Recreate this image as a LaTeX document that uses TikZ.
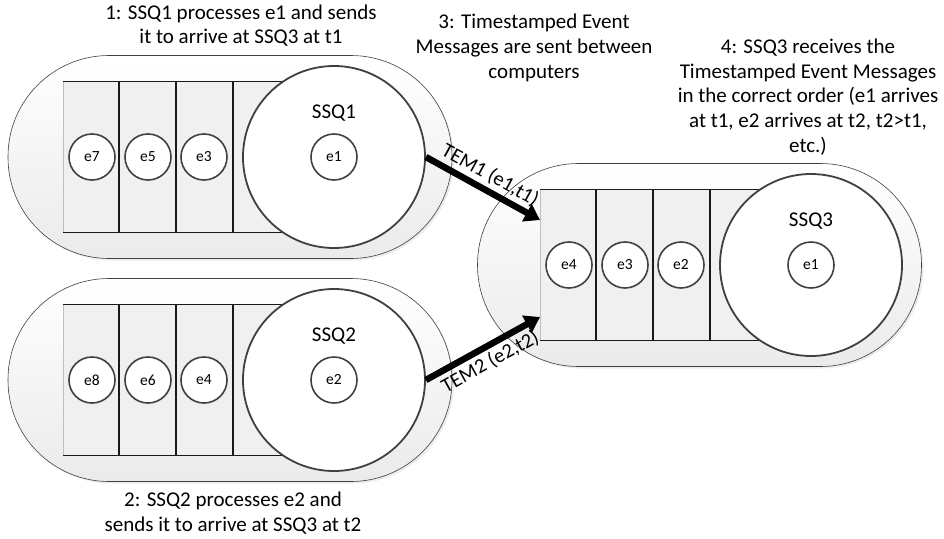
\documentclass[tikz,border=0pt]{standalone}
\usepackage{fontspec}
\setmainfont{Carlito}
\usepackage{tikz}
\usetikzlibrary{arrows.meta, positioning, calc, shadows}
\definecolor{ssqline}{RGB}{64, 64, 64}
\definecolor{ssqcell}{RGB}{240, 240, 240}
\definecolor{ssqedge}{RGB}{190, 190, 190}

\begin{document}
\begin{tikzpicture}[x=1pt, y=-1pt,
    capsule/.style={draw=ssqline, line width=0.6pt, rounded corners=101pt,
                    minimum width=444pt, minimum height=203pt, inner sep=0pt,
                    top color=white, bottom color=black!8,
                    drop shadow={opacity=0.15, shadow xshift=2pt, shadow yshift=-2pt}},
    server/.style={circle, draw=ssqline, line width=1.8pt, fill=white,
                   minimum size=182pt, inner sep=0pt},
    event/.style={circle, draw=ssqline, line width=1.6pt, fill=white,
                  minimum size=46pt, inner sep=0pt, font=\fontsize{15.5}{18}\selectfont},
    qline/.style={line width=1.8pt, black!90},
    ssqname/.style={font=\fontsize{21}{24}\selectfont},
    note/.style={align=center, font=\fontsize{21}{24.7}\selectfont},
    msg/.style={-{Triangle[length=15pt, width=19pt]}, line width=6.5pt},
    msglabel/.style={font=\fontsize{20.5}{22}\selectfont, sloped, inner sep=3pt},
]
\useasboundingbox (0,0) rectangle (944,538);

% Queues: number / centre of server / capsule offset / events
\foreach \s/\x/\y/\off/\a/\b/\c/\d in {1/334/157/-104/e7/e5/e3/e1,
                                       2/334/380/-104/e8/e6/e4/e2,
                                       3/811/265/-111.5/e4/e3/e2/e1} {
    \coordinate (c\s) at (\x,\y);
    \node[capsule] (pill\s) at ($(c\s)+(\off,0)$) {};
    \fill[ssqcell] ($(c\s)+(-271,-75.5)$) rectangle ($(c\s)+(0,75.5)$);
    \draw[ssqedge, line width=0.8pt] ($(c\s)+(-271,-75.5)$) -- ($(c\s)+(-271,75.5)$);
    \draw[qline] ($(c\s)+(-271,-75.5)$) -- ($(c\s)+(0,-75.5)$);
    \draw[qline] ($(c\s)+(-271,75.5)$) -- ($(c\s)+(0,75.5)$);
    \foreach \dx in {-215,-158,-101}
        \draw[qline] ($(c\s)+(\dx,-75.5)$) -- ($(c\s)+(\dx,75.5)$);
    \node[server] (ssq\s) at (c\s) {};
    \node[event] (ev\s-1) at ($(c\s)+(-242,0)$) {\a};
    \node[event] (ev\s-2) at ($(c\s)+(-186,0)$) {\b};
    \node[event] (ev\s-3) at ($(c\s)+(-130,0)$) {\c};
    \node[event] (head\s) at (c\s) {\d};
    \node[ssqname, above=8pt of head\s] (name\s) {SSQ\s};
}

% Entry points of SSQ3
\coordinate (in1) at ($(c3)+(-271,-45)$);
\coordinate (in2) at ($(c3)+(-271,52)$);

% Messages
\draw[msg] (ssq1.east) -- node[msglabel, above] (tem1) {TEM1 (e1,t1)} (in1);
\draw[msg] (ssq2.east) -- node[msglabel, below] (tem2) {TEM2 (e2,t2)} (in2);

% Notes
\node[note] (note1) at (241,25.5) {1: SSQ1 processes e1 and sends\\it to arrive at SSQ3 at t1};
\node[note] (note2) at (233,513) {2: SSQ2 processes e2 and\\sends it to arrive at SSQ3 at t2};
\node[note] (note3) at (534,48) {3: Timestamped Event\\Messages are sent between\\computers};
\node[note] (note4) at (808,97) {4: SSQ3 receives the\\Timestamped Event Messages\\in the correct order (e1 arrives\\at t1, e2 arrives at t2, t2>t1,\\etc.)};

\end{tikzpicture}
\end{document}
